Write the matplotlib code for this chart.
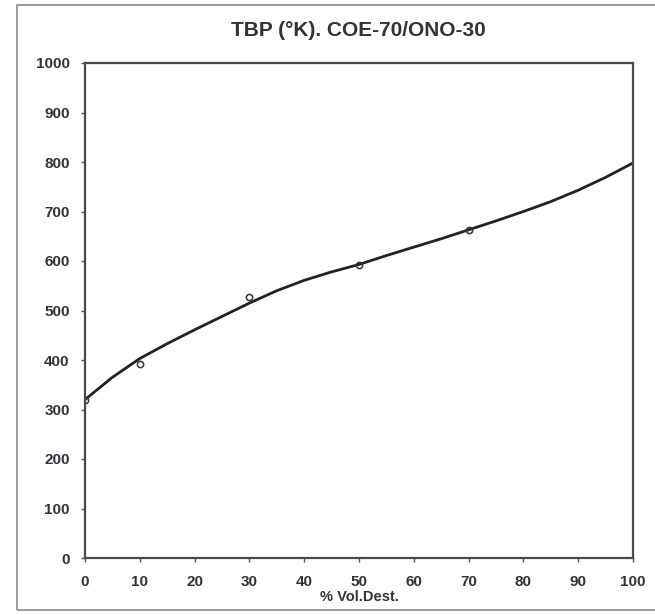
import matplotlib
matplotlib.use("Agg")
import matplotlib.pyplot as plt
from matplotlib.patches import Rectangle

# measured points (% vol. distilled, temperature K)
vol_points = [0, 10, 30, 50, 70]
temp_points = [320, 392, 527, 592, 662]

# smoothed TBP curve
vol_curve = [0, 5, 10, 15, 20, 25, 30, 35, 40, 45, 50, 55, 60, 65, 70, 75, 80, 85, 90, 95, 100]
temp_curve = [320, 365, 403, 433, 461, 488, 515, 540, 561, 578, 593, 611, 628, 645, 663, 681,
              700, 720, 743, 769, 798]

x_ticks = list(range(0, 101, 10))
y_ticks = list(range(0, 1001, 100))

text_color = "#35313a"
plt.rcParams["font.family"] = ["Liberation Sans", "DejaVu Sans"]

fig = plt.figure(figsize=(6.55, 6.15), dpi=100)
fig.patch.set_facecolor("white")

# chart area border
fig.patches.append(Rectangle((17 / 655, 5 / 615), 650 / 655, 605 / 615, transform=fig.transFigure,
                             fill=False, edgecolor="#8a8a8a", linewidth=1.2))

ax = fig.add_axes([85 / 655, 1 - 558 / 615, 548 / 655, 495 / 615])
ax.plot(vol_curve, temp_curve, color="#222222", linewidth=2.0, solid_capstyle="round")
ax.plot(vol_points, temp_points, linestyle="none", marker="o", markersize=4.5,
        markerfacecolor="none", markeredgecolor="#333333", markeredgewidth=1.1)

ax.set_xlim(0, 100)
ax.set_ylim(0, 1000)
ax.set_xticks(x_ticks)
ax.set_yticks(y_ticks)
ax.tick_params(direction="out", length=3, width=1, colors="#555555", labelcolor=text_color,
               labelsize=11)
for label in ax.get_xticklabels() + ax.get_yticklabels():
    label.set_fontweight("bold")
ax.tick_params(axis="x", pad=9.5)
ax.tick_params(axis="y", pad=8)
for spine in ax.spines.values():
    spine.set_color("#4a4a4a")
    spine.set_linewidth(1.6)

ax.set_xlabel("% Vol.Dest.", fontsize=10.5, fontweight="bold", color=text_color, va="center")
ax.xaxis.set_label_coords(0.5, (558 - 597) / 495)
fig.text(358 / 655, 1 - 31 / 615, "TBP (°K). COE-70/ONO-30", ha="center", va="center",
         fontsize=15, fontweight="bold", color=text_color)

fig.savefig("out.png", dpi=100)
